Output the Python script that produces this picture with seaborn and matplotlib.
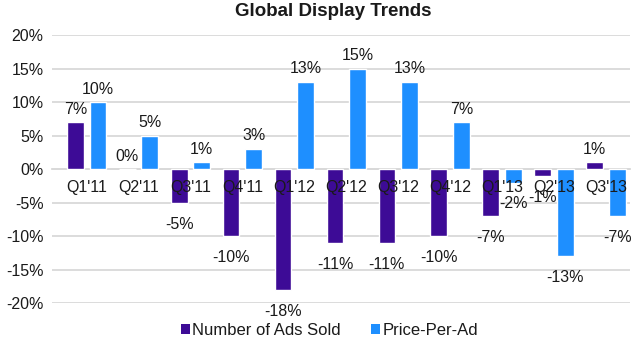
import matplotlib
matplotlib.use("Agg")
import matplotlib.pyplot as plt
import seaborn as sns
import pandas as pd
from matplotlib.patches import Patch

quarters = ["Q1'11", "Q2'11", "Q3'11", "Q4'11", "Q1'12", "Q2'12", "Q3'12", "Q4'12", "Q1'13", "Q2'13", "Q3'13"]
ads_sold = [7, 0, -5, -10, -18, -11, -11, -10, -7, -1, 1]
price_per_ad = [10, 5, 1, 3, 13, 15, 13, 7, -2, -13, -7]
series_names = ["Number of Ads Sold", "Price-Per-Ad"]
colors = ["#3d0b96", "#1e8fff"]
yticks = [-20, -15, -10, -5, 0, 5, 10, 15, 20]

df = pd.DataFrame({
    "quarter": quarters * 2,
    "series": [series_names[0]] * len(quarters) + [series_names[1]] * len(quarters),
    "value": ads_sold + price_per_ad,
})

sns.set_theme(style="white")
plt.rcParams['font.family'] = ['Liberation Sans', 'DejaVu Sans']
plt.rcParams['text.color'] = '#1a1a1a'

fig = plt.figure(figsize=(6.4, 3.48), dpi=100)
ax = fig.add_axes([0.081, 0.129, 0.903, 0.77])

sns.barplot(data=df, x="quarter", y="value", hue="series", palette=colors,
            width=0.87, gap=0.26, ax=ax, legend=False, saturation=1)

ax.set_ylim(-20, 20)
ax.set_xlim(-0.67, 10.46)
ax.set_yticks(yticks)
ax.set_yticklabels([f"{t}%" for t in yticks], fontsize=11.5, color='#1a1a1a')
ax.yaxis.grid(True, color='#d9d9d9', linewidth=1.3)
ax.set_axisbelow(True)
for s in ['top', 'right', 'left']:
    ax.spines[s].set_visible(False)
ax.spines['bottom'].set_position(('data', 0))
ax.spines['bottom'].set_color('#d9d9d9')
ax.spines['bottom'].set_linewidth(1.3)
ax.spines['bottom'].set_zorder(0.5)
ax.tick_params(axis='x', length=0, pad=8, labelsize=11.5, colors='#1a1a1a')
ax.tick_params(axis='y', length=0, pad=6)
ax.xaxis.set_zorder(3)
ax.set_xlabel("")
ax.set_ylabel("")

for cont in ax.containers:
    for p in cont.patches:
        h = p.get_height()
        xc = p.get_x() + p.get_width() / 2
        if h >= 0:
            ax.annotate(f"{h:.0f}%", (xc, h), xytext=(0, 4), textcoords='offset points',
                        ha='center', va='bottom', fontsize=11.5, color='#1a1a1a')
        else:
            ax.annotate(f"{h:.0f}%", (xc, h), xytext=(0, -10), textcoords='offset points',
                        ha='center', va='top', fontsize=11.5, color='#1a1a1a')

fig.suptitle("Global Display Trends", fontsize=13.5, fontweight='bold', y=0.99, x=0.52)

handles = [Patch(facecolor=c, edgecolor='none') for c in colors]
fig.legend(handles, series_names, loc='lower center', bbox_to_anchor=(0.515, -0.015), ncol=2,
           frameon=False, fontsize=12, handlelength=0.55, handleheight=0.55,
           handletextpad=0.15, columnspacing=1.8)

fig.savefig("out.png", dpi=100, facecolor='white')
